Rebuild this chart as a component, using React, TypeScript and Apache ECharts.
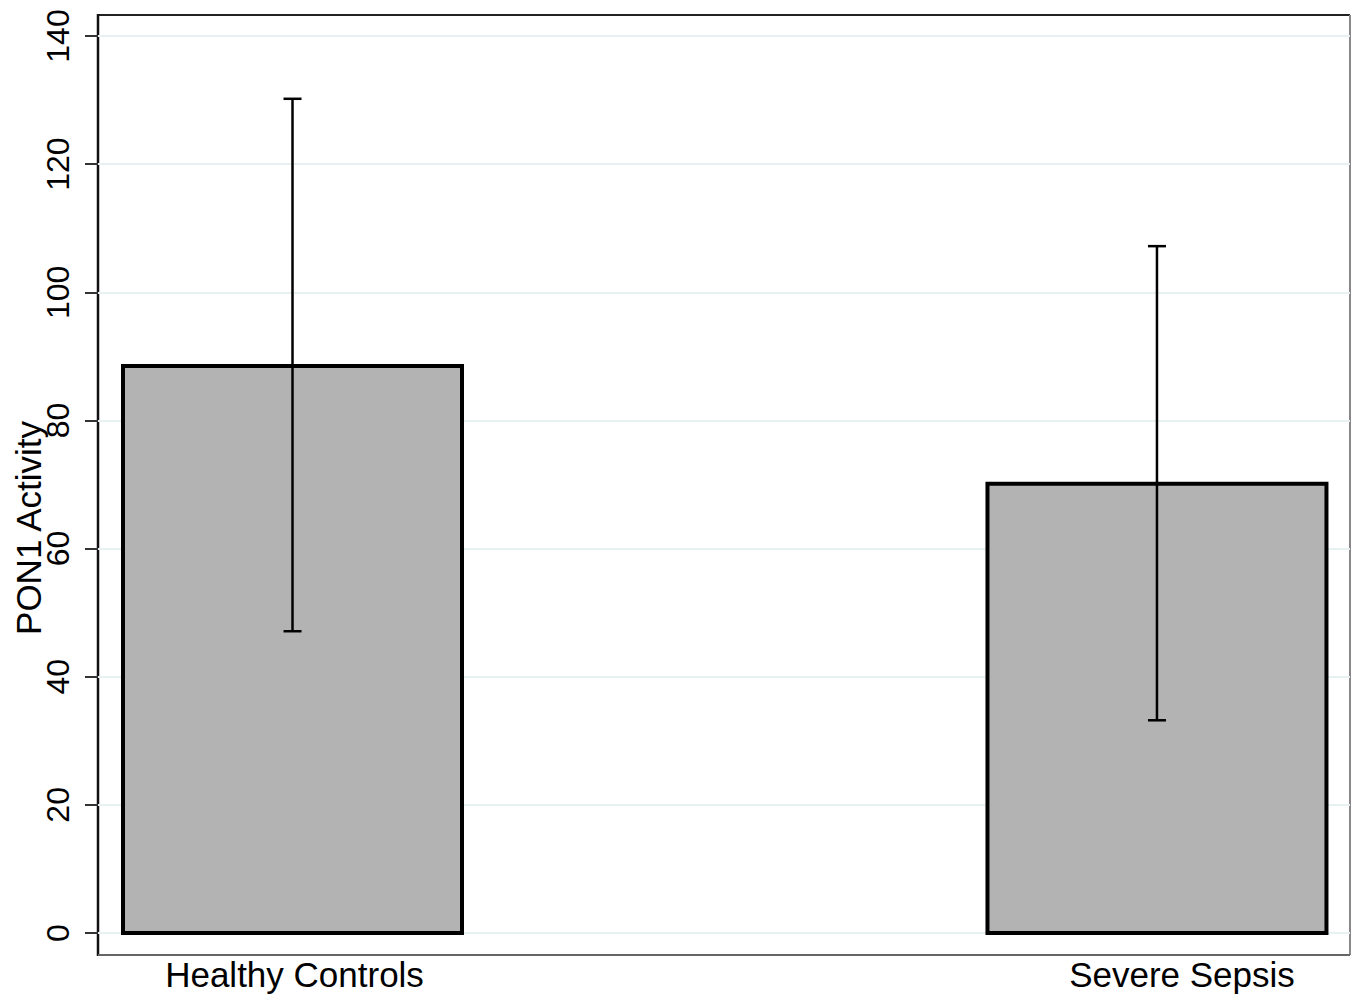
import React, { useEffect, useRef } from "react";
import * as echarts from "echarts";

const categories = ["Healthy Controls", "Severe Sepsis"];
const means = [88.5, 70.1];
const errLow = [47.1, 33.2];
const errHigh = [130.2, 107.2];
const yTicks = { min: 0, max: 140, interval: 20 };
const yTitle = "PON1 Activity";

const FONT = "Liberation Sans, Arial, sans-serif";

export default function App() {
  const ref = useRef<HTMLDivElement>(null);
  useEffect(() => {
    if (!ref.current) return;
    const chart = echarts.init(ref.current, null, { renderer: "svg" });
    const barData = categories.map((_, i) => [i, means[i]]);
    const errData = categories.map((_, i) => [i, errLow[i], errHigh[i]]);
    const labelData = categories.map((_, i) => [i, 0]);
    chart.setOption({
      animation: false,
      backgroundColor: "#ffffff",
      textStyle: { fontFamily: FONT },
      grid: [{ left: 98, right: 10, top: 36, bottom: 67, outerBoundsMode: "none" }],
      xAxis: [
        { gridIndex: 0, type: "value", min: -0.225, max: 1.2233, show: false, splitLine: { show: false } },
      ],
      yAxis: [
        {
          gridIndex: 0,
          type: "value",
          min: yTicks.min,
          max: yTicks.max,
          interval: yTicks.interval,
          axisLine: { show: false, onZero: false },
          axisTick: { show: true, length: 13, lineStyle: { color: "#333", width: 2 } },
          axisLabel: {
            rotate: 90,
            margin: 24,
            fontSize: 32,
            color: "#000",
            fontFamily: FONT,
          },
          splitLine: { show: true, lineStyle: { color: "#e8f1f2", width: 2 } },
        },
      ],
      graphic: [
        { type: "line", shape: { x1: 98, y1: 15, x2: 1350, y2: 15 }, style: { stroke: "#222", lineWidth: 2 } },
        { type: "line", shape: { x1: 98, y1: 14, x2: 98, y2: 956 }, style: { stroke: "#111", lineWidth: 2.5 } },
        { type: "line", shape: { x1: 1350, y1: 15, x2: 1350, y2: 955 }, style: { stroke: "#888", lineWidth: 2 } },
        { type: "line", shape: { x1: 98, y1: 955, x2: 1350, y2: 955 }, style: { stroke: "#666", lineWidth: 2 } },
        {
          type: "text",
          x: 28,
          y: 528,
          rotation: Math.PI / 2,
          style: {
            text: yTitle,
            fontSize: 35,
            fontFamily: FONT,
            fill: "#000",
            align: "center",
            verticalAlign: "middle",
          },
        },
      ],
      series: [
        {
          type: "custom",
          data: barData,
          z: 2,
          renderItem: (params: any, api: any) => {
            const base = api.coord([api.value(0), 0]);
            const top = api.coord([api.value(0), api.value(1)]);
            const w = 339;
            return {
              type: "rect",
              shape: { x: base[0] - w / 2, y: top[1], width: w, height: base[1] - top[1] },
              style: { fill: "#b3b3b3", stroke: "#000", lineWidth: 4 },
            };
          },
        },
        {
          type: "custom",
          data: errData,
          z: 3,
          renderItem: (params: any, api: any) => {
            const lo = api.coord([api.value(0), api.value(1)]);
            const hi = api.coord([api.value(0), api.value(2)]);
            const hw = 9;
            const style = { stroke: "#000", lineWidth: 2.5 };
            return {
              type: "group",
              children: [
                { type: "line", shape: { x1: lo[0], y1: lo[1], x2: hi[0], y2: hi[1] }, style },
                { type: "line", shape: { x1: hi[0] - hw, y1: hi[1], x2: hi[0] + hw, y2: hi[1] }, style },
                { type: "line", shape: { x1: lo[0] - hw, y1: lo[1], x2: lo[0] + hw, y2: lo[1] }, style },
              ],
            };
          },
        },
        {
          type: "custom",
          data: labelData,
          z: 4,
          clip: false,
          silent: true,
          renderItem: (params: any, api: any) => {
            const idx = api.value(0);
            const p = api.coord([idx, api.value(1)]);
            const shift = idx === 1 ? 25 : 2;
            return {
              type: "text",
              x: p[0] + shift,
              y: p[1] + 24,
              style: {
                text: categories[idx],
                fontSize: 35,
                fontFamily: FONT,
                fill: "#000",
                align: "center",
                verticalAlign: "top",
              },
            };
          },
        },
      ],
    });
    return () => chart.dispose();
  }, []);
  return (
    <div
      ref={ref}
      style={{ position: "fixed", left: 0, top: 0, width: 1360, height: 1000, background: "#fff" }}
    />
  );
}
